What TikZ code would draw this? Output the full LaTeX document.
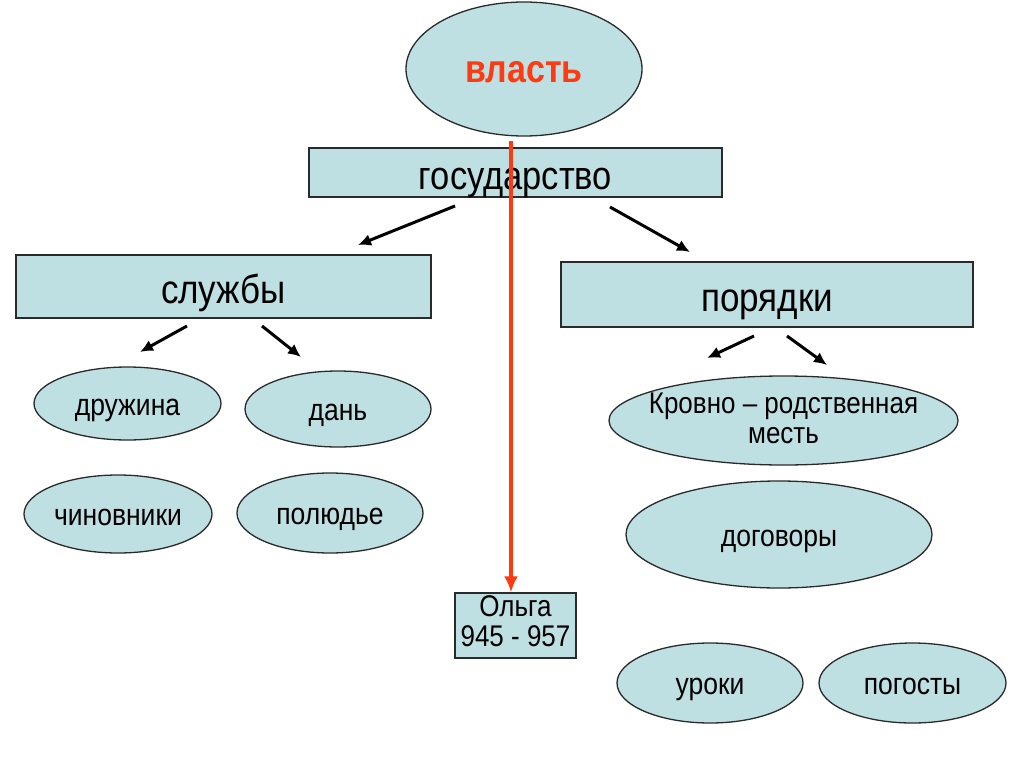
\documentclass[tikz,border=0pt]{standalone}
\usepackage{fontspec}
\usepackage{graphicx}
\setmainfont{Liberation Sans}
\usetikzlibrary{shapes.geometric,arrows.meta}
\definecolor{boxfill}{HTML}{BFE0E3}
\definecolor{boxline}{HTML}{2A2A2A}
\definecolor{redline}{HTML}{FF3A10}
\newcommand{\vstretch}[1]{\scalebox{1}[1.15]{#1}}
\newcommand{\twolines}[2]{\vstretch{\begin{tabular}{@{}c@{}}#1\\#2\end{tabular}}}
\tikzset{
  ovalnode/.style={ellipse,draw=boxline,line width=1.3pt,fill=boxfill,inner sep=0pt,font=\fontsize{26.5}{25}\selectfont},
  smalltext/.style={text height=29pt,text depth=6pt},
  boxnode/.style={rectangle,draw=boxline,line width=1.3pt,fill=boxfill,inner sep=0pt,font=\fontsize{35}{38}\selectfont},
  bigtext/.style={text height=41pt,text depth=7pt},
  blackarrow/.style={line width=3pt,-{Latex[length=13pt,width=12pt]}},
  redarrow/.style={draw=redline,line width=4.5pt,-{Latex[length=16pt,width=14pt]}}
}
\begin{document}
\begin{tikzpicture}[x=1pt,y=-1pt]
\useasboundingbox[fill=white] (0,0) rectangle (1024,767);
% top
\node[ovalnode,minimum width=236pt,minimum height=134pt,font=\fontsize{34}{38}\selectfont\bfseries,text=redline,text height=36pt,text depth=9pt] (vlast) at (524,69) {\vstretch{власть}};
\node[boxnode,bigtext,minimum width=413pt,minimum height=49pt,font=\fontsize{34.5}{38}\selectfont] (gos) at (515.5,172.5) {\vstretch{государство}};
\node[boxnode,bigtext,minimum width=415pt,minimum height=63pt] (sluzhby) at (223.5,286.5) {\vstretch{службы}};
\node[boxnode,bigtext,minimum width=412pt,minimum height=65pt] (poryadki) at (767,294.5) {\vstretch{порядки}};
% left ovals
\node[ovalnode,smalltext,minimum width=187pt,minimum height=73pt] (druzhina) at (127.5,403.5) {\vstretch{дружина}};
\node[ovalnode,smalltext,minimum width=186pt,minimum height=76pt] (dan) at (338,409) {\vstretch{дань}};
\node[ovalnode,smalltext,minimum width=188pt,minimum height=78pt] (chin) at (118,514) {\vstretch{чиновники}};
\node[ovalnode,smalltext,minimum width=186pt,minimum height=80pt] (polyudye) at (330,513) {\vstretch{полюдье}};
% right ovals
\node[ovalnode,minimum width=349pt,minimum height=89pt,font=\fontsize{26}{26}\selectfont] (krov) at (783.5,420.5) {\makebox[0pt]{\raisebox{-9pt}[0pt][0pt]{\twolines{Кровно – родственная}{месть}}}};
\node[ovalnode,smalltext,minimum width=306pt,minimum height=107pt] (dogovory) at (779,534.5) {\vstretch{договоры}};
\node[ovalnode,smalltext,minimum width=186pt,minimum height=80pt] (uroki) at (710,683) {\vstretch{уроки}};
\node[ovalnode,smalltext,minimum width=187pt,minimum height=80pt] (pogosty) at (912.5,683) {\vstretch{погосты}};
% Olga
\node[boxnode,minimum width=121pt,minimum height=65pt,font=\fontsize{26}{26}\selectfont] (olga) at (515.5,625.5) {\raisebox{-3pt}{\twolines{Ольга}{945 - 957}}};
% arrow coordinates
\coordinate (a1s) at (455,206); \coordinate (a1e) at (358,245);
\coordinate (a2s) at (610,207); \coordinate (a2e) at (690,252);
\coordinate (a3s) at (187,326); \coordinate (a3e) at (140,352);
\coordinate (a4s) at (262,326); \coordinate (a4e) at (301,357);
\coordinate (a5s) at (754,336); \coordinate (a5e) at (707,358);
\coordinate (a6s) at (787,336); \coordinate (a6e) at (827,365);
\draw[blackarrow] (a1s) -- (a1e);
\draw[blackarrow] (a2s) -- (a2e);
\draw[blackarrow] (a3s) -- (a3e);
\draw[blackarrow] (a4s) -- (a4e);
\draw[blackarrow] (a5s) -- (a5e);
\draw[blackarrow] (a6s) -- (a6e);
% red arrow
\coordinate (rtop) at (511,141);
\draw[redarrow] (rtop) -- (rtop |- olga.north);
\end{tikzpicture}
\end{document}
